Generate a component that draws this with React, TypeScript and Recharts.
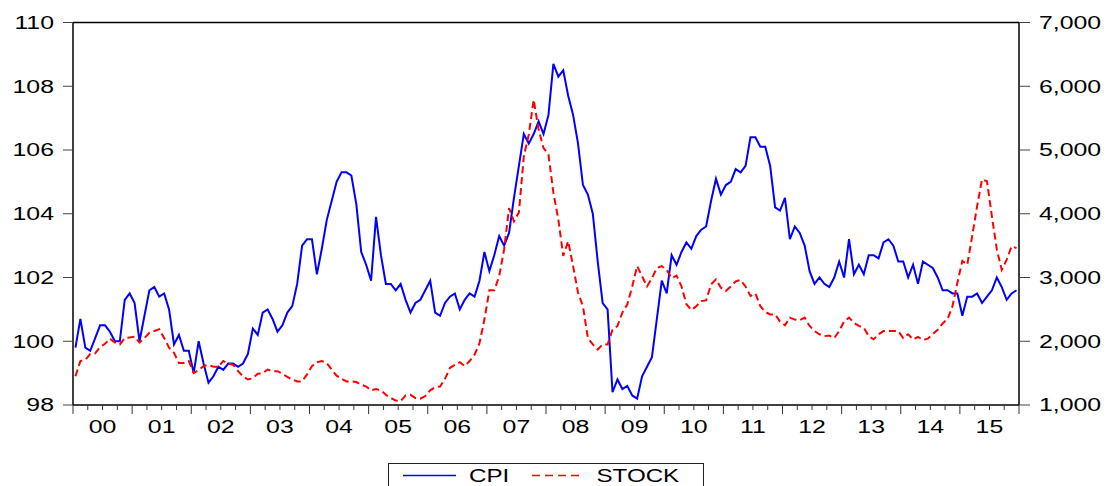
import { LineChart, Line, XAxis, YAxis, ReferenceLine, Legend } from "recharts";

// monthly, 2000M01 .. 2015M12
const yearLabels = ["00", "01", "02", "03", "04", "05", "06", "07", "08", "09", "10", "11", "12", "13", "14", "15"];

const cpiValues = [
  99.8, 100.7, 99.8, 99.7, 100.1, 100.5, 100.5, 100.3, 100.0, 100.0, 101.3, 101.5,
  101.2, 100.0, 100.8, 101.6, 101.7, 101.4, 101.5, 101.0, 99.9, 100.2, 99.7, 99.7,
  99.0, 100.0, 99.3, 98.7, 98.9, 99.2, 99.1, 99.3, 99.3, 99.2, 99.3, 99.6,
  100.4, 100.2, 100.9, 101.0, 100.7, 100.3, 100.5, 100.9, 101.1, 101.8, 103.0, 103.2,
  103.2, 102.1, 102.9, 103.8, 104.4, 105.0, 105.3, 105.3, 105.2, 104.3, 102.8, 102.4,
  101.9, 103.9, 102.7, 101.8, 101.8, 101.6, 101.8, 101.3, 100.9, 101.2, 101.3, 101.6,
  101.9, 100.9, 100.8, 101.2, 101.4, 101.5, 101.0, 101.3, 101.5, 101.4, 101.9, 102.8,
  102.2, 102.7, 103.3, 103.0, 103.4, 104.5, 105.5, 106.5, 106.2, 106.5, 106.9, 106.5,
  107.1, 108.7, 108.3, 108.5, 107.7, 107.1, 106.2, 104.9, 104.6, 104.0, 102.5, 101.2,
  101.0, 98.4, 98.8, 98.5, 98.6, 98.3, 98.2, 98.9, 99.2, 99.5, 100.7, 101.9,
  101.5, 102.7, 102.4, 102.8, 103.1, 102.9, 103.3, 103.5, 103.6, 104.4, 105.1, 104.6,
  104.9, 105.0, 105.4, 105.3, 105.5, 106.4, 106.4, 106.1, 106.1, 105.5, 104.2, 104.1,
  104.5, 103.2, 103.6, 103.4, 103.0, 102.2, 101.8, 102.0, 101.8, 101.7, 102.0, 102.5,
  102.0, 103.2, 102.1, 102.4, 102.1, 102.7, 102.7, 102.6, 103.1, 103.2, 103.0, 102.5,
  102.5, 102.0, 102.4, 101.8, 102.5, 102.4, 102.3, 102.0, 101.6, 101.6, 101.5, 101.5,
  100.8, 101.4, 101.4, 101.5, 101.2, 101.4, 101.6, 102.0, 101.7, 101.3, 101.5, 101.6,
];

const stockValues = [
  1450, 1690, 1710, 1800, 1810, 1910, 1960, 2040, 1980, 1950, 2050, 2060,
  2070, 1980, 2050, 2130, 2160, 2190, 2050, 1900, 1820, 1660, 1660, 1690,
  1500, 1550, 1610, 1630, 1600, 1600, 1690, 1650, 1630, 1530, 1450, 1400,
  1420, 1490, 1500, 1555, 1530, 1530, 1490, 1440, 1400, 1370, 1370, 1480,
  1610, 1670, 1690, 1660, 1555, 1460, 1410, 1370, 1370, 1360, 1320, 1290,
  1230, 1250, 1230, 1160, 1110, 1070, 1060, 1150, 1160, 1110, 1100, 1140,
  1230, 1280, 1290, 1410, 1580, 1630, 1670, 1610, 1690, 1790, 1970, 2340,
  2800, 2800, 3020, 3440, 4090, 3880, 4020, 4900, 5240, 5790, 5320, 5030,
  4930, 4330, 3910, 3340, 3570, 3180, 2760, 2550, 2050, 1950, 1870, 1950,
  1950, 2180, 2240, 2450, 2580, 2860, 3180, 3020, 2860, 2990, 3150, 3180,
  3120, 2990, 3030, 2860, 2580, 2490, 2550, 2630, 2640, 2890, 2970, 2840,
  2790, 2860, 2940, 2960, 2860, 2710, 2750, 2550, 2460, 2420, 2420, 2310,
  2250, 2370, 2340, 2330, 2370, 2240, 2160, 2110, 2080, 2090, 2050, 2160,
  2310, 2370, 2290, 2240, 2210, 2080, 2030, 2110, 2160, 2160, 2160, 2160,
  2050, 2110, 2030, 2070, 2020, 2040, 2110, 2180, 2280, 2350, 2550, 2920,
  3260, 3200, 3650, 4120, 4540, 4510, 3960, 3440, 3120, 3280, 3490, 3460,
];

const cpiTicks = [98, 100, 102, 104, 106, 108, 110];
const stockTicks = [1000, 2000, 3000, 4000, 5000, 6000, 7000];
const monthTicks = Array.from({ length: 65 }, (_, k) => k * 3);

const data = cpiValues.map((v, i) => ({ t: i + 0.5, cpi: v, stock: stockValues[i] }));

const FONT = "'Liberation Sans', Arial, sans-serif";
const STRETCH = 1.38;

const LeftTick = ({ x, y, payload }: any) => (
  <text
    transform={`translate(${x},${y}) scale(${STRETCH},1)`}
    textAnchor="end"
    dy="0.36em"
    fontSize={18}
    fontFamily={FONT}
    fill="#000"
  >
    {payload.value}
  </text>
);

const RightTick = ({ x, y, payload }: any) => (
  <text
    transform={`translate(${x},${y}) scale(${STRETCH},1)`}
    textAnchor="start"
    dy="0.36em"
    fontSize={18}
    fontFamily={FONT}
    fill="#000"
  >
    {payload.value.toLocaleString("en-US")}
  </text>
);

const BottomTick = ({ x, y, payload }: any) => {
  const v = payload.value;
  const major = v % 12 === 0;
  return (
    <g>
      <line x1={x} x2={x} y1={y} y2={y + (major ? 9 : 5)} stroke="#333" strokeWidth={1} />
      {v % 12 === 6 && (
        <text
          transform={`translate(${x},${y + 27.5}) scale(${STRETCH},1)`}
          textAnchor="middle"
          fontSize={18}
          fontFamily={FONT}
          fill="#000"
        >
          {yearLabels[(v - 6) / 12]}
        </text>
      )}
    </g>
  );
};

const legendText = (x: number, label: string) => (
  <text
    transform={`translate(${x},18.5) scale(${STRETCH},1)`}
    fontSize={17.5}
    fontFamily={FONT}
    fill="#000"
  >
    {label}
  </text>
);

const renderLegend = () => (
  <svg width={318} height={30} style={{ display: "block", overflow: "visible" }}>
    <rect x={0.5} y={0.5} width={315} height={40} fill="#fff" stroke="#222" strokeWidth={1} />
    <line x1={15} x2={68} y1={12.5} y2={12.5} stroke="#0000ff" strokeWidth={1.5} />
    {legendText(81, "CPI")}
    <line x1={144} x2={193} y1={12.5} y2={12.5} stroke="#ff0000" strokeWidth={1.5} strokeDasharray="8 5" />
    {legendText(208.5, "STOCK")}
  </svg>
);

export default function App() {
  return (
    <div style={{ position: "absolute", left: 0, top: 0, width: 1109, height: 486, background: "#fff" }}>
      <LineChart width={1109} height={486} data={data} margin={{ top: 22.5, right: 0, bottom: 0, left: 0 }}>
        <XAxis
          dataKey="t"
          type="number"
          domain={[0, 192]}
          ticks={monthTicks}
          interval={0}
          height={81}
          tickSize={0}
          tickMargin={0}
          tickLine={false}
          axisLine={{ stroke: "#000", strokeWidth: 1.5 }}
          tick={<BottomTick />}
        />
        <YAxis
          yAxisId="cpi"
          domain={[98, 110]}
          ticks={cpiTicks}
          interval={0}
          width={73}
          tickSize={10}
          tickMargin={9}
          axisLine={{ stroke: "#000", strokeWidth: 1.5 }}
          tickLine={{ stroke: "#444" }}
          tick={<LeftTick />}
        />
        <YAxis
          yAxisId="stock"
          orientation="right"
          domain={[1000, 7000]}
          ticks={stockTicks}
          interval={0}
          width={90}
          tickSize={11}
          tickMargin={9}
          axisLine={{ stroke: "#000", strokeWidth: 1.5 }}
          tickLine={{ stroke: "#444" }}
          tick={<RightTick />}
        />
        <ReferenceLine yAxisId="cpi" y={110} stroke="#000" strokeWidth={1.5} />
        <Line
          yAxisId="cpi"
          dataKey="cpi"
          type="linear"
          stroke="#0000ff"
          strokeWidth={2}
          dot={false}
          isAnimationActive={false}
        />
        <Line
          yAxisId="stock"
          dataKey="stock"
          type="linear"
          stroke="#ff0000"
          strokeWidth={2}
          strokeDasharray="7 4"
          dot={false}
          isAnimationActive={false}
        />
        <Legend
          layout="horizontal"
          verticalAlign="middle"
          align="center"
          content={renderLegend}
          wrapperStyle={{ left: 388, top: 462.5, width: 318, height: 30 }}
        />
      </LineChart>
    </div>
  );
}
